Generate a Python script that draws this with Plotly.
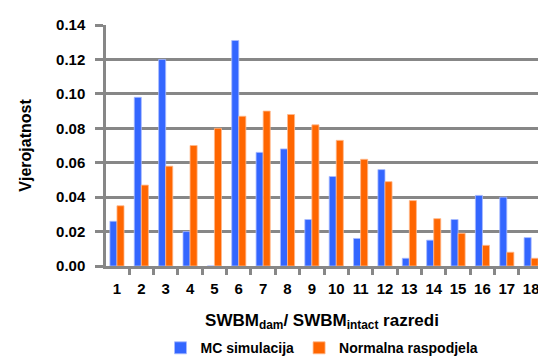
import plotly.graph_objects as go

# razredi (classes) and probabilities
classes = [str(i) for i in range(1, 19)]
mc_sim = [0.026, 0.098, 0.120, 0.020, 0.0, 0.131, 0.066, 0.068, 0.027,
          0.052, 0.016, 0.056, 0.0045, 0.015, 0.027, 0.041, 0.040, 0.0165]
normal = [0.035, 0.047, 0.058, 0.070, 0.080, 0.087, 0.090, 0.088, 0.082,
          0.073, 0.062, 0.049, 0.038, 0.0275, 0.019, 0.012, 0.008, 0.0045]
y_ticks = [0.00, 0.02, 0.04, 0.06, 0.08, 0.10, 0.12, 0.14]

grid = '#878787'

fig = go.Figure()
fig.add_trace(go.Bar(x=classes, y=mc_sim, name='MC simulacija',
                     marker=dict(color='#3366FF', line=dict(color='#a9bbff', width=0.8))))
fig.add_trace(go.Bar(x=classes, y=normal, name='Normalna raspodjela',
                     marker=dict(color='#FF6600', line=dict(color='#ffb98c', width=0.8))))

fig.update_layout(
    width=538, height=358,
    margin=dict(l=106, r=0, t=25, b=92, autoexpand=False),
    paper_bgcolor='white', plot_bgcolor='white',
    font=dict(family='Liberation Sans, Arial, sans-serif', size=15, color='black', weight='bold'),
    barmode='group', bargap=0.42, bargroupgap=0.0,
    showlegend=True,
    legend=dict(orientation='h', x=0.5, xanchor='center', xref='paper',
                y=0.072, yanchor='top', yref='container',
                font=dict(size=14), itemwidth=30, tracegroupgap=0, traceorder='normal'),
)
fig.update_xaxes(
    type='category', range=[-0.45, 17.28], tickangle=0, automargin=False,
    showline=True, linecolor=grid, linewidth=2.5,
    ticks='outside', tickson='boundaries', ticklen=6, tickwidth=2.5, tickcolor=grid,
    tickfont=dict(size=15), ticklabelstandoff=7,
    title=dict(text='SWBM<sub>dam</sub>/ SWBM<sub>intact</sub> razredi', font=dict(size=17), standoff=22),
)
fig.update_yaxes(
    range=[0, 0.14], tickvals=y_ticks, tickformat='.2f', automargin=False,
    showgrid=True, gridcolor=grid, gridwidth=2.5,
    showline=True, linecolor=grid, linewidth=2.5,
    zeroline=False,
    ticks='outside', ticklen=8, tickwidth=2.5, tickcolor=grid,
    tickfont=dict(size=15), ticklabelstandoff=7,
    title=dict(text='Vjerojatnost', font=dict(size=16), standoff=21),
)

# the page body has an 8px default margin; drop it so the chart sits at 0,0
fig.write_html('out.html', config={'displayModeBar': False},
               post_script="document.body.style.margin='0';")
